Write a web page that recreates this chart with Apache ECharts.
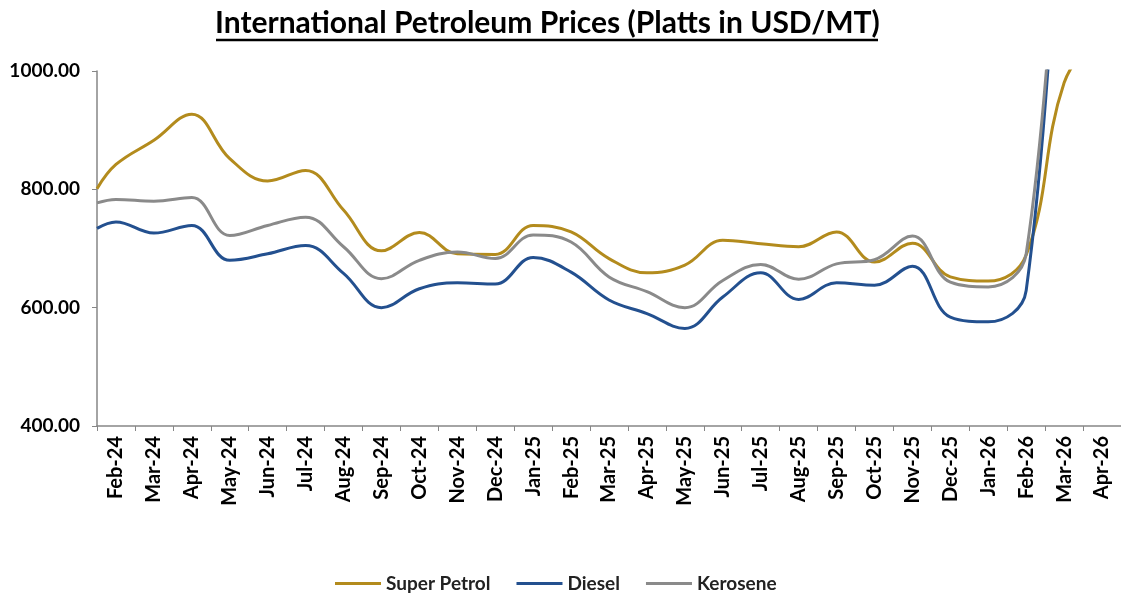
<!DOCTYPE html>
<html>
<head>
<meta charset="utf-8">
<title>International Petroleum Prices</title>
<script src="https://cdn.jsdelivr.net/npm/echarts@6/dist/echarts.min.js"></script>
<style>
  * { margin: 0; padding: 0; }
  body { background: #fff; }
  #chart { width: 1121px; height: 596px; }
</style>
</head>
<body>
<div id="chart"></div>
<script>
// month labels on the x axis
const months = ['Feb-24', 'Mar-24', 'Apr-24', 'May-24', 'Jun-24', 'Jul-24', 'Aug-24', 'Sep-24',
  'Oct-24', 'Nov-24', 'Dec-24', 'Jan-25', 'Feb-25', 'Mar-25', 'Apr-25', 'May-25', 'Jun-25',
  'Jul-25', 'Aug-25', 'Sep-25', 'Oct-25', 'Nov-25', 'Dec-25', 'Jan-26', 'Feb-26', 'Mar-26', 'Apr-26'];

// value at the very start of Feb-24 (line begins on the axis)
const startPetrol = 801;
const startDiesel = 734;
const startKerosene = 777;

// mid-month values, USD/MT
const superPetrol = [842, 883, 927, 852, 814, 832, 765, 696, 727, 691, 690, 739, 728, 683,
  659, 672, 714, 708, 703, 728, 677, 709, 652, 645, 689, 980, 1070];
const diesel = [745, 726, 739, 680, 691, 705, 658, 600, 632, 642, 640, 685, 660, 613,
  590, 565, 618, 659, 614, 642, 638, 670, 584, 576, 629, 1520];
const kerosene = [783, 780, 786, 722, 739, 753, 703, 649, 680, 694, 683, 723, 711, 652,
  627, 600, 646, 673, 648, 674, 681, 721, 643, 635, 691, 1500];

const yTicks = [400, 600, 800, 1000];

function toPoints(start, vals) {
  const pts = [[0, start]];
  vals.forEach((v, i) => pts.push([i + 0.5, v]));
  return pts;
}

const chart = echarts.init(document.getElementById('chart'));

const font = 'Lato, "Open Sans", sans-serif';

const option = {
  animation: false,
  title: {
    text: 'International Petroleum Prices (Platts in USD/MT)',
    left: 210,
    top: 3,
    textStyle: { fontFamily: font, fontWeight: 'bold', fontSize: 30, color: '#000' }
  },
  graphic: [
    {
      type: 'line',
      shape: { x1: 216, y1: 40, x2: 878, y2: 40 },
      style: { stroke: '#000', lineWidth: 2.5 }
    }
  ],
  legend: {
    top: 569,
    left: 330,
    icon: 'rect',
    itemWidth: 46,
    itemHeight: 3,
    itemGap: 26,
    textStyle: { fontFamily: font, fontWeight: 'bold', fontSize: 19, color: '#222' },
    data: ['Super Petrol', 'Diesel', 'Kerosene']
  },
  grid: { left: 97, top: 71, width: 1024, height: 355 },
  xAxis: [
    {
      type: 'category',
      data: months,
      axisLine: { lineStyle: { color: '#868686', width: 1.5 } },
      axisTick: { show: true, length: 5, lineStyle: { color: '#868686' } },
      axisLabel: {
        interval: 0,
        rotate: 90,
        margin: 10,
        fontFamily: font,
        fontWeight: 'bold',
        fontSize: 20,
        color: '#000'
      },
      splitLine: { show: false }
    },
    {
      type: 'value',
      min: 0,
      max: months.length,
      show: false
    }
  ],
  yAxis: {
    type: 'value',
    min: yTicks[0],
    max: yTicks[yTicks.length - 1],
    interval: 200,
    axisLine: { show: true, lineStyle: { color: '#868686', width: 1.5 } },
    axisTick: { show: true, length: 5, lineStyle: { color: '#868686' } },
    splitLine: { show: false },
    axisLabel: {
      margin: 17,
      formatter: v => v.toFixed(2),
      fontFamily: font,
      fontWeight: 'bold',
      fontSize: 19,
      color: '#000'
    }
  },
  series: [
    {
      name: 'Super Petrol',
      type: 'line',
      xAxisIndex: 1,
      smooth: 0.4,
      showSymbol: false,
      color: '#B38B1D',
      lineStyle: { width: 3 },
      data: toPoints(startPetrol, superPetrol)
    },
    {
      name: 'Diesel',
      type: 'line',
      xAxisIndex: 1,
      smooth: 0.4,
      showSymbol: false,
      color: '#23508F',
      lineStyle: { width: 3 },
      data: toPoints(startDiesel, diesel)
    },
    {
      name: 'Kerosene',
      type: 'line',
      xAxisIndex: 1,
      smooth: 0.4,
      showSymbol: false,
      color: '#8A8A8A',
      lineStyle: { width: 3 },
      data: toPoints(startKerosene, kerosene)
    }
  ]
};

chart.setOption(option);
</script>
</body>
</html>
